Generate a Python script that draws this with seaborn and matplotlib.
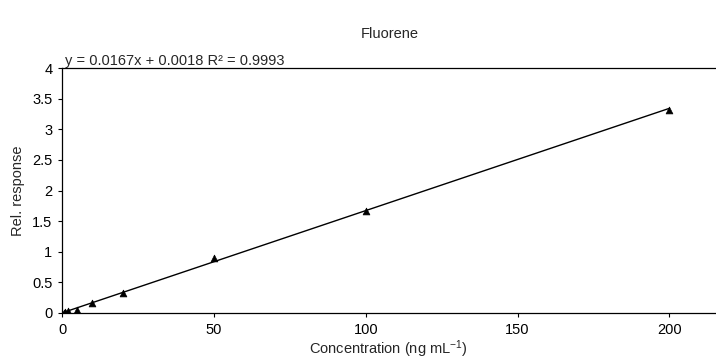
import matplotlib
matplotlib.use("Agg")
import matplotlib.pyplot as plt
import seaborn as sns
import numpy as np
import pandas as pd

conc = [0.5, 1, 2, 5, 10, 20, 50, 100, 200]
response = [0.006, 0.012, 0.025, 0.05, 0.16, 0.33, 0.90, 1.67, 3.31]
slope = 0.0167
intercept = 0.0018
x_ticks = [0, 50, 100, 150, 200]
y_ticks = [0, 0.5, 1, 1.5, 2, 2.5, 3, 3.5, 4]
y_tick_labels = ["0", "0.5", "1", "1.5", "2", "2.5", "3", "3.5", "4"]

sns.set_style("white")
plt.rcParams['font.family'] = ['Liberation Sans', 'DejaVu Sans']

df = pd.DataFrame({"conc": conc, "resp": response})
fit = pd.DataFrame({"conc": [0, 200]})
fit["resp"] = slope * fit["conc"] + intercept

FS = 10.5
fig = plt.figure(figsize=(7.16, 3.6), dpi=100)
ax = fig.add_axes([62/716, 47/360, 653/716, 245/360])

sns.lineplot(data=fit, x="conc", y="resp", color="black", linewidth=1.0, ax=ax)
sns.scatterplot(data=df, x="conc", y="resp", marker="^", color="black", s=24,
                edgecolor="black", linewidth=0.5, ax=ax, zorder=3)

ax.set_xlim(0, 215)
ax.set_ylim(0, 4)
ax.set_xticks(x_ticks)
ax.set_yticks(y_ticks)
ax.set_yticklabels(y_tick_labels)
ax.tick_params(axis="both", labelsize=FS, length=3, width=0.8, direction="out",
               bottom=True, left=True, colors="black")
ax.tick_params(axis="x", pad=4)
ax.tick_params(axis="y", pad=4)
for s in ["left", "bottom", "top"]:
    ax.spines[s].set_color("black")
    ax.spines[s].set_linewidth(0.9)
ax.spines["right"].set_visible(False)

ax.set_xlabel(r"Concentration (ng mL$\mathregular{^{-1}}$)", fontsize=FS, labelpad=1)
ax.set_ylabel("Rel. response", fontsize=FS, labelpad=5)
fig.text(390/716, 1 - 34/360, "Fluorene", ha="center", va="center", fontsize=FS)
ax.text(0.004, 1.0, "y = 0.0167x + 0.0018 R² = 0.9993", transform=ax.transAxes,
        ha="left", va="bottom", fontsize=FS)

fig.savefig("out.png", dpi=100)
